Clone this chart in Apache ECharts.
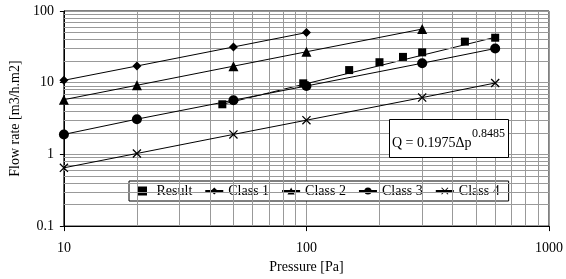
<!DOCTYPE html>
<html>
<head>
<meta charset="utf-8">
<script src="https://cdn.jsdelivr.net/npm/echarts@6/dist/echarts.min.js"></script>
<style>
  html, body { margin: 0; padding: 0; background: #fff; }
  #chart { width: 566px; height: 279px; }
</style>
</head>
<body>
<div id="chart"></div>
<script>
  // values
  var resultP = [45, 97, 150, 200, 250, 300, 450, 600]
  var resultQ = [5.0, 9.8, 15.0, 19.3, 22.9, 26.5, 37.4, 42.4]
  var trendP = [45, 600]
  var trendQ = [5.0, 43]
  var class1P = [10, 20, 50, 100]
  var class1Q = [10.8, 17.1, 31.5, 50]
  var class2P = [10, 20, 50, 100, 300]
  var class2Q = [5.8, 9.2, 17.0, 27, 56]
  var class3P = [10, 20, 50, 100, 300, 600]
  var class3Q = [1.9, 3.1, 5.7, 9.0, 18.7, 30]
  var class4P = [10, 20, 50, 100, 300, 600]
  var class4Q = [0.65, 1.03, 1.9, 3.0, 6.2, 9.9]
  var minorX = [20, 30, 40, 50, 60, 70, 80, 90, 200, 300, 400, 500, 600, 700, 800, 900]
  var minorY = [0.2, 0.3, 0.4, 0.5, 0.6, 0.7, 0.8, 0.9, 2, 3, 4, 5, 6, 7, 8, 9, 20, 30, 40, 50, 60, 70, 80, 90]

  var font = 'Liberation Serif'
  var crossPath = 'path://M0,1L1,0L10,9L9,10Z M9,0L10,1L1,10L0,9Z'
  var squarePath = 'path://M0,0H10V10H0Z'

  function pairs(xs, ys) {
    return xs.map(function (x, i) { return [x, ys[i]] })
  }

  var gridLines = []
  minorX.forEach(function (v) { gridLines.push({ xAxis: v }) })
  minorY.forEach(function (v) { gridLines.push({ yAxis: v }) })

  function classSeries(name, xs, ys, symbol, size) {
    return {
      name: name,
      type: 'line',
      data: pairs(xs, ys),
      symbol: symbol,
      symbolSize: size,
      showAllSymbol: true,
      z: 5,
      lineStyle: { color: '#000', width: 1 },
      itemStyle: { color: '#000' }
    }
  }

  var dom = echarts.init(document.getElementById('chart'))
  var option = {
    animation: false,
    textStyle: { fontFamily: font, color: '#000' },
    grid: {
      left: 54, right: 14, top: 11, bottom: 47,
      show: true, borderColor: '#000', borderWidth: 1
    },
    legend: {
      left: 129, top: 181,
      padding: [3, 9],
      itemGap: 12,
      itemWidth: 18,
      itemHeight: 9,
      backgroundColor: '#fff',
      borderColor: '#000',
      borderWidth: 1,
      borderRadius: 0,
      textStyle: { fontFamily: font, fontSize: 14, color: '#000' },
      data: [
        { name: 'Result', icon: squarePath },
        'Class 1', 'Class 2', 'Class 3', 'Class 4'
      ]
    },
    xAxis: {
      type: 'log', logBase: 10, min: 10, max: 1000,
      name: 'Pressure [Pa]', nameLocation: 'middle', nameGap: 33,
      nameTextStyle: { fontFamily: font, fontSize: 14, color: '#000' },
      axisLine: { lineStyle: { color: '#000', width: 1 } },
      axisTick: { show: true, length: 5, lineStyle: { color: '#000' } },
      axisLabel: {
        fontFamily: font, fontSize: 14, color: '#000', margin: 15,
        formatter: function (v) { return String(v) }
      },
      splitLine: { show: true, lineStyle: { color: '#999', width: 1 } }
    },
    yAxis: {
      type: 'log', logBase: 10, min: 0.1, max: 100,
      name: 'Flow rate [m3/h.m2]', nameLocation: 'middle', nameGap: 33,
      nameTextStyle: { fontFamily: font, fontSize: 14, color: '#000' },
      axisLine: { show: true, lineStyle: { color: '#000', width: 1 } },
      axisTick: { show: true, length: 4, lineStyle: { color: '#000' } },
      axisLabel: {
        fontFamily: font, fontSize: 14, color: '#000', margin: 10,
        formatter: function (v) { return String(v) }
      },
      splitLine: { show: true, lineStyle: { color: '#999', width: 1 } }
    },
    series: [
      {
        name: 'grid',
        type: 'line',
        data: [[10, 1]],
        symbol: 'none',
        lineStyle: { opacity: 0 },
        z: 1,
        silent: true,
        markLine: {
          silent: true,
          symbol: ['none', 'none'],
          label: { show: false },
          lineStyle: { color: '#999', type: 'solid', width: 1 },
          emphasis: { disabled: true },
          data: gridLines
        }
      },
      {
        name: 'trend',
        type: 'line',
        data: pairs(trendP, trendQ),
        symbol: 'none',
        z: 4,
        lineStyle: { color: '#000', width: 1 }
      },
      {
        name: 'Result',
        type: 'scatter',
        data: pairs(resultP, resultQ),
        symbol: 'rect',
        symbolSize: 8,
        z: 6,
        itemStyle: { color: '#000', opacity: 1 }
      },
      classSeries('Class 1', class1P, class1Q, 'diamond', 9),
      classSeries('Class 2', class2P, class2Q, 'triangle', 10),
      classSeries('Class 3', class3P, class3Q, 'circle', 10),
      classSeries('Class 4', class4P, class4Q, crossPath, 9)
    ],
    graphic: [
      {
        type: 'rect',
        shape: { x: 389.5, y: 119.5, width: 119, height: 38 },
        style: { fill: '#fff', stroke: '#000', lineWidth: 1 },
        z: 10
      },
      {
        type: 'text',
        x: 392, y: 143,
        style: { text: 'Q = 0.1975Δp', font: '14px "Liberation Serif"', fill: '#000', verticalAlign: 'middle' },
        z: 11
      },
      {
        type: 'text',
        x: 472, y: 134,
        style: { text: '0.8485', font: '12px "Liberation Serif"', fill: '#000', verticalAlign: 'middle' },
        z: 11
      }
    ]
  }
  dom.setOption(option)
</script>
</body>
</html>
